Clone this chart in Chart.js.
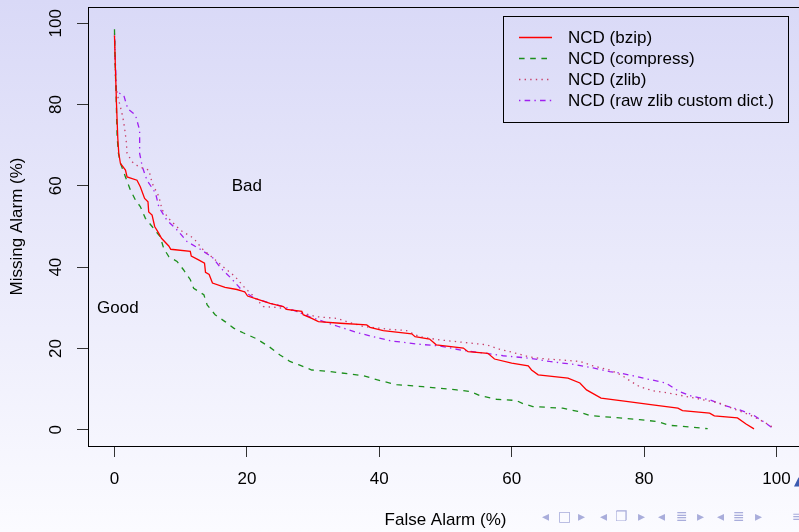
<!DOCTYPE html>
<html><head><meta charset="utf-8">
<script src="https://cdn.jsdelivr.net/npm/chart.js@4.4.0/dist/chart.umd.min.js"></script>
<style>
html,body{margin:0;padding:0;width:799px;height:532px;overflow:hidden;background:linear-gradient(to bottom,#d9d9f7,#fbfbff);}
#wrap{position:absolute;left:0;top:0;width:806px;height:532px;}
.nav{position:absolute;top:507px;font:14px "DejaVu Sans",sans-serif;color:#a9addb;line-height:18px;}
</style></head><body>
<div id="wrap"><canvas id="c" width="806" height="532"></canvas></div>
<span class="nav" style="left:542px">◂</span><span class="nav" style="left:558px">□</span><span class="nav" style="left:578px">▸</span>
<span class="nav" style="left:600px">◂</span><span class="nav" style="left:615px">❐</span><span class="nav" style="left:638px">▸</span>
<span class="nav" style="left:658px">◂</span><span class="nav" style="left:676px">≣</span><span class="nav" style="left:697px">▸</span>
<span class="nav" style="left:717px">◂</span><span class="nav" style="left:733px">≣</span><span class="nav" style="left:755px">▸</span>
<span class="nav" style="left:792px">≡</span>
<span style="position:absolute;left:794px;top:474px;font:12px 'DejaVu Sans';color:#3b5bb0;">▲</span>
<script>
// ---- data (False Alarm % vs Missing Alarm %) ----
const bzipFA = [0,0.15,0.3,0.5,0.65,0.9,1.66,1.9,3.4,3.9,4.55,5.06,5.17,5.68,6.07,6.7,7.1,8.2,8.5,11.45,11.6,12.7,13.6,13.75,14.3,14.8,16.7,18.5,19.7,20.1,22.0,23.5,25.5,26.0,28.3,28.5,29.8,30.8,34.1,38.1,38.6,40.6,44.9,45.4,47.6,48.6,52.7,53.4,56.4,57.4,60.0,62.5,63.0,64.0,68.5,70.3,71.3,73.5,77.3,81.3,85.1,85.8,89.9,90.6,94.1,95.4,96.6];
const bzipMA = [97,88.5,80.3,71.7,68,65.5,63.9,62.2,61.4,59.8,56.9,56.1,53.6,52.8,50.0,48.3,47.1,45.2,44.4,43.9,42.7,41.8,41.0,38.7,38.2,36.1,35.0,34.5,33.9,32.9,31.9,31.1,30.3,29.6,29.1,28.3,27.4,26.6,26.2,25.8,25.2,24.4,23.6,22.9,22.3,20.9,20.1,19.2,18.8,17.4,16.4,15.7,14.7,13.5,12.7,11.5,9.8,7.8,7.0,6.1,5.3,4.7,4.1,3.4,2.9,1.4,0.2];

const compressFA = [0,0.1,0.25,0.4,0.6,0.9,1.66,2.4,3.17,3.9,4.67,5.68,6.9,7.44,8.2,9.45,10.45,11.46,11.96,13.5,14.0,15.2,16.7,18.0,19.5,21.3,23.3,25.0,26.5,27.8,29.8,32.6,37.6,39.6,42.6,46.6,51.7,53.7,55.2,57.7,60.7,61.7,63.2,67.7,70.0,71.8,74.8,79.3,82.1,83.8,87.3,89.6];
const compressMA = [98.5,90,82,72,68,65.6,62.2,59.0,56.5,54.9,52.0,50.0,47.5,44.6,42.6,41.4,39.3,36.9,34.8,33.2,30.7,28.3,26.6,25.0,23.8,22.5,20.5,18.4,16.8,16.0,14.7,14.3,13.3,12.3,11.1,10.6,9.8,9.4,8.4,7.5,7.2,6.4,5.7,5.3,4.5,3.5,3.1,2.5,2.0,1.1,0.6,0.25];

const zlibFA = [0,0.15,0.5,0.9,1.25,1.5,1.76,1.9,2.67,3.67,5.2,5.7,6.7,7.2,8.4,9.95,11.96,13.2,15.2,16.7,18.2,19.75,20.8,22.5,24.5,26.5,28.5,30.5,33.6,35.1,37.6,41.6,44.1,46.1,49.1,52.7,56.2,58.2,60.2,62.7,65.2,67.2,70.3,72.3,74.8,76.5,78.0,79.3,81.3,83.8,86.3,88.8,91.3,93.9,95.9,97.4,98.9,99.7];
const zlibMA = [97,86,82,79.4,77.0,74.5,71.3,68.0,65.9,64.7,63.9,60.6,57.4,54.1,51.6,49.1,47.1,44.6,41.8,39.7,37.7,34.8,33.2,30.3,30.1,29.5,28.7,27.8,27.4,26.6,25.4,24.7,24.4,22.9,22.1,21.5,20.9,19.8,19.0,17.9,17.4,17.2,16.8,15.7,14.7,13.5,11.9,10.6,9.6,9.0,8.2,7.4,6.6,4.9,3.7,2.5,1.2,0.25];

const rawFA = [0,0.15,0.3,1.4,2.0,3.17,3.8,3.8,4.2,4.9,6.2,6.7,7.9,9.6,10.95,12.96,14.8,16.1,17.6,19.2,21.1,23.5,25.5,27.5,29.5,31.6,33.8,36.6,39.1,41.6,45.6,49.1,52.7,56.2,58.7,62.7,65.7,69.7,72.3,74.8,76.5,78.8,81.0,83.3,85.3,87.3,89.9,91.9,94.4,96.4,98.4,99.4];
const rawMA = [97.5,90,83.1,82.3,79.0,77.4,73.7,68.0,64.7,61.4,58.2,54.8,51.6,48.9,46.3,44.4,42.4,39.7,37.3,34.4,32.4,31.1,30.3,29.1,27.8,26.6,25.4,23.9,22.9,21.9,21.1,20.6,19.5,18.8,18.2,17.6,16.8,16.0,15.2,14.3,13.9,13.1,12.3,11.5,9.4,8.2,7.4,6.1,4.9,3.7,1.6,0.4];

const seriesLabels = ['NCD (bzip)','NCD (compress)','NCD (zlib)','NCD (raw zlib custom dict.)'];
const xTicks = [0,20,40,60,80,100];
const yTicks = [0,20,40,60,80,100];
const noteText = ['Bad','Good'];
const noteX = [20,0.5];
const noteY = [60,29.8];

// ---- styling ----
const FONT = '"Liberation Sans", Arial, Helvetica, sans-serif';
const FS = 17;
const styles = [
  {color:'#ff0000', dash:[]},
  {color:'#1c8f1c', dash:[5.6,5.6]},
  {color:'#c8406a', dash:[1.4,4.2]},
  {color:'#a020f0', dash:[1.4,4.2,5.6,4.2]}
];
const pairs = (xs, ys) => xs.map((v,i)=>({x:v, y:ys[i]}));
const seriesData = [pairs(bzipFA,bzipMA), pairs(compressFA,compressMA), pairs(zlibFA,zlibMA), pairs(rawFA,rawMA)];

const decor = {
  id:'decor',
  afterDraw(chart){
    const {ctx, chartArea:a, scales:{x,y}} = chart;
    ctx.save();
    ctx.strokeStyle='#000'; ctx.lineWidth=1; ctx.setLineDash([]);
    ctx.strokeRect(Math.round(a.left)+0.5, Math.round(a.top)+0.5, Math.round(a.right-a.left), Math.round(a.bottom-a.top));
    ctx.font = FS+'px '+FONT; ctx.fillStyle='#000'; ctx.textAlign='center'; ctx.textBaseline='middle';
    noteText.forEach((t,i)=>ctx.fillText(t, x.getPixelForValue(noteX[i]), y.getPixelForValue(noteY[i])));
    // legend
    const lw = 285, lh = 106;
    const L = Math.round(a.right - 15 - lw), T = Math.round(a.top + 9);
    ctx.strokeRect(L+0.5, T+0.5, lw, lh);
    ctx.textAlign='left';
    chart.data.datasets.forEach((ds,i)=>{
      const yy = T + 21 + i*21;
      ctx.save();
      ctx.strokeStyle = ds.borderColor; ctx.lineWidth = ds.borderWidth; ctx.setLineDash(ds.borderDash||[]);
      ctx.beginPath(); ctx.moveTo(L+16, yy+0.5); ctx.lineTo(L+49, yy+0.5); ctx.stroke();
      ctx.restore();
      ctx.fillStyle='#000';
      ctx.fillText(ds.label, L+65, yy+1);
    });
    ctx.restore();
  }
};

new Chart(document.getElementById('c'), {
  type:'line',
  data:{ datasets: seriesData.map((d,i)=>({
    label: seriesLabels[i], data: d,
    borderColor: styles[i].color, borderDash: styles[i].dash, borderWidth: 1.3,
    pointRadius:0, tension:0, fill:false, borderCapStyle:'butt'
  }))},
  options:{
    responsive:false, animation:false, parsing:true,
    layout:{padding:{top:7,left:0,right:3,bottom:0}},
    plugins:{legend:{display:false}, tooltip:{enabled:false}},
    scales:{
      x:{type:'linear', min:-4, max:104,
        afterBuildTicks: s => { s.ticks = xTicks.map(v=>({value:v})); },
        afterFit: s => { s.height = 86; s.paddingLeft = 0; s.paddingRight = 0; },
        grid:{drawOnChartArea:false, drawTicks:true, tickLength:11, color:'#000', tickColor:'#333', tickWidth:1},
        border:{display:false},
        ticks:{font:{family:FONT,size:FS}, color:'#000', padding:12, maxRotation:0, minRotation:0},
        title:{display:true, text:'False Alarm (%)', color:'#000', font:{family:FONT,size:FS}, padding:{top:0,bottom:1}}
      },
      y:{type:'linear', min:-4, max:104,
        afterBuildTicks: s => { s.ticks = yTicks.map(v=>({value:v})); },
        afterFit: s => { s.width = 88; s.paddingTop = 0; s.paddingBottom = 0; },
        grid:{drawOnChartArea:false, drawTicks:true, tickLength:11, color:'#000', tickColor:'#333', tickWidth:1},
        border:{display:false},
        ticks:{font:{family:FONT,size:FS}, color:'#000', padding:7, minRotation:90, maxRotation:90, crossAlign:'center'},
        title:{display:true, text:'Missing Alarm (%)', color:'#000', font:{family:FONT,size:FS}, padding:{top:7,bottom:0}}
      }
    }
  },
  plugins:[decor]
});
</script>
</body></html>
